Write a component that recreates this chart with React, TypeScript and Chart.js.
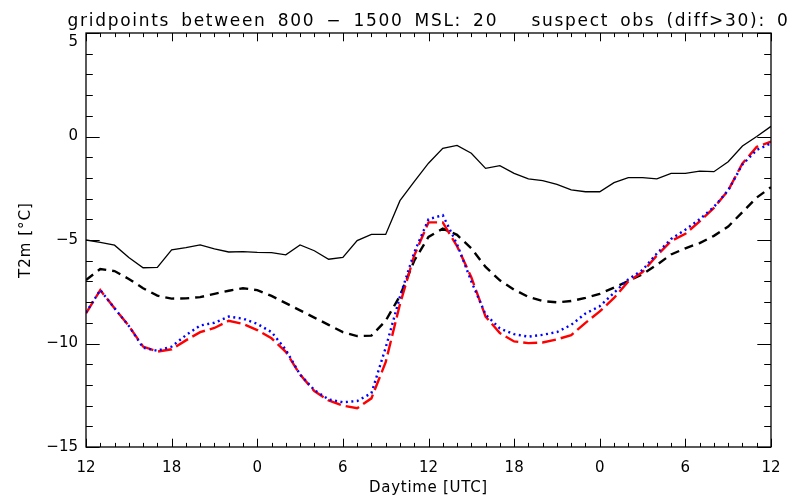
import React, { useEffect, useRef } from "react";
import { Chart, registerables } from "chart.js";

Chart.register(...registerables);

// Hours since start (12 UTC day 1 ... 12 UTC day 3)
const hours = [
  0, 1, 2, 3, 4, 5, 6, 7, 8, 9, 10, 11, 12, 13, 14, 15, 16, 17, 18, 19, 20, 21, 22, 23, 24,
  25, 26, 27, 28, 29, 30, 31, 32, 33, 34, 35, 36, 37, 38, 39, 40, 41, 42, 43, 44, 45, 46, 47, 48,
];

const xTickLabels = ["12", "18", "0", "6", "12", "18", "0", "6", "12"];

// solid black
const obsT2m = [
  -5.0, -5.12, -5.25, -5.85, -6.34, -6.32, -5.48, -5.37, -5.24, -5.43, -5.58, -5.56, -5.6,
  -5.61, -5.72, -5.24, -5.52, -5.93, -5.84, -5.03, -4.73, -4.73, -3.1, -2.18, -1.29, -0.57,
  -0.43, -0.81, -1.54, -1.41, -1.78, -2.05, -2.13, -2.31, -2.58, -2.67, -2.67, -2.23, -1.99,
  -1.99, -2.05, -1.78, -1.78, -1.67, -1.7, -1.22, -0.46, 0.0, 0.49,
];

// black dashed
const modelA = [
  -6.93, -6.4, -6.5, -6.88, -7.33, -7.69, -7.83, -7.82, -7.76, -7.6, -7.45, -7.33, -7.42,
  -7.7, -8.05, -8.4, -8.75, -9.1, -9.45, -9.64, -9.62, -8.9, -7.7, -6.0, -4.85, -4.45, -4.75,
  -5.4, -6.3, -6.95, -7.4, -7.75, -7.95, -8.01, -7.95, -7.8, -7.6, -7.3, -6.98, -6.65, -6.2,
  -5.7, -5.4, -5.15, -4.8, -4.35, -3.65, -2.95, -2.45,
];

// red long dashes
const modelB = [
  -8.54, -7.42, -8.3, -9.15, -10.15, -10.39, -10.28, -9.85, -9.45, -9.25, -8.9, -9.05, -9.35,
  -9.75, -10.4, -11.5, -12.3, -12.75, -13.0, -13.13, -12.65, -10.9, -8.1, -5.75, -4.15, -4.15,
  -5.3, -6.8, -8.7, -9.5, -9.9, -9.98, -9.95, -9.8, -9.6, -9.0, -8.45, -7.8, -7.0, -6.55,
  -5.75, -5.05, -4.7, -4.1, -3.45, -2.6, -1.3, -0.5, -0.25,
];

// blue dotted
const modelC = [
  -8.5, -7.42, -8.3, -9.15, -10.2, -10.35, -10.15, -9.6, -9.13, -9.0, -8.7, -8.8, -9.05,
  -9.45, -10.3, -11.5, -12.25, -12.7, -12.84, -12.78, -12.4, -10.2, -7.74, -5.6, -4.0, -3.8,
  -5.2, -7.0, -8.6, -9.27, -9.55, -9.67, -9.58, -9.45, -9.1, -8.55, -8.2, -7.55, -6.9, -6.45,
  -5.65, -4.95, -4.5, -4.0, -3.4, -2.6, -1.35, -0.65, -0.33,
];

const titleText = "gridpoints between 800 \u2212 1500 MSL: 20   suspect obs (diff>30): 0";
const xTitle = "Daytime [UTC]";
const yTitle = "T2m [\u00B0C]";

const FONT = "'DejaVu Sans', 'Liberation Sans', sans-serif";

const fmtY = (v: number) => (v < 0 ? "\u2212" + Math.abs(v) : String(v));

const framePlugin = {
  id: "idlFrame",
  afterDatasetsDraw(chart: any) {
    const { ctx, chartArea: a, scales } = chart;
    const xs = scales.x;
    const ys = scales.y;
    ctx.save();
    ctx.strokeStyle = "#000";
    ctx.lineWidth = 1.3;
    ctx.strokeRect(a.left, a.top, a.right - a.left, a.bottom - a.top);
    ctx.lineWidth = 1;
    ctx.beginPath();
    for (let v = -15; v <= 5; v++) {
      const py = Math.round(ys.getPixelForValue(v)) + 0.5;
      const len = v % 5 === 0 ? 13.7 : 6.8;
      ctx.moveTo(a.left, py);
      ctx.lineTo(a.left + len, py);
      ctx.moveTo(a.right, py);
      ctx.lineTo(a.right - len, py);
    }
    for (let h = 0; h <= 48; h++) {
      const px = Math.round(xs.getPixelForValue(h)) + 0.5;
      const len = h % 6 === 0 ? 8.3 : 4.1;
      ctx.moveTo(px, a.bottom);
      ctx.lineTo(px, a.bottom - len);
      ctx.moveTo(px, a.top);
      ctx.lineTo(px, a.top + len);
    }
    ctx.stroke();

    ctx.fillStyle = "#000";

    // y tick labels (IDL keeps the top label inside below the title)
    ctx.font = `15px ${FONT}`;
    ctx.textAlign = "right";
    ctx.textBaseline = "middle";
    for (const t of ys.ticks) {
      const py = ys.getPixelForValue(t.value);
      ctx.fillText(fmtY(t.value), a.left - 8, Math.max(py, a.top + 9));
    }

    // main title
    ctx.font = `17px ${FONT}`;
    ctx.textAlign = "center";
    ctx.textBaseline = "alphabetic";
    (ctx as any).letterSpacing = "1.7px";
    (ctx as any).wordSpacing = "4px";
    ctx.fillText(titleText, (a.left + a.right) / 2, 26);

    // x axis title
    ctx.font = `15px ${FONT}`;
    (ctx as any).letterSpacing = "0.7px";
    (ctx as any).wordSpacing = "0px";
    ctx.fillText(xTitle, (a.left + a.right) / 2, 492);

    // y axis title
    (ctx as any).letterSpacing = "1px";
    ctx.translate(26, (a.top + a.bottom) / 2);
    ctx.rotate(-Math.PI / 2);
    ctx.textBaseline = "middle";
    ctx.fillText(yTitle, 0, 0);
    ctx.restore();
  },
};

export default function App() {
  const ref = useRef<HTMLCanvasElement | null>(null);

  useEffect(() => {
    document.body.style.margin = "0";
    const canvas = ref.current;
    if (!canvas) return;
    const mk = (vals: number[]) => hours.map((h, i) => ({ x: h, y: vals[i] }));
    const chart = new Chart(canvas, {
      type: "line",
      data: {
        datasets: [
          {
            label: "obs",
            data: mk(obsT2m),
            borderColor: "#000000",
            borderWidth: 1.3,
            pointRadius: 0,
            order: 4,
          },
          {
            label: "model A",
            data: mk(modelA),
            borderColor: "#000000",
            borderWidth: 2.4,
            borderDash: [9, 6],
            pointRadius: 0,
            order: 3,
          },
          {
            label: "model B",
            data: mk(modelB),
            borderColor: "#ff0000",
            borderWidth: 2.4,
            borderDash: [14, 5],
            pointRadius: 0,
            order: 2,
          },
          {
            label: "model C",
            data: mk(modelC),
            borderColor: "#0000ff",
            borderWidth: 2.4,
            borderDash: [2, 3.5],
            pointRadius: 0,
            order: 1,
          },
        ],
      },
      options: {
        animation: false,
        responsive: false,
        maintainAspectRatio: false,
        layout: { padding: { top: 33, right: 25, left: 0, bottom: 0 } },
        plugins: {
          legend: { display: false },
          title: { display: false },
          tooltip: { enabled: false },
        },
        elements: { line: { tension: 0 }, point: { radius: 0 } },
        scales: {
          x: {
            type: "linear",
            min: 0,
            max: 48,
            border: { display: false },
            grid: { display: false, drawTicks: false },
            ticks: {
              stepSize: 6,
              autoSkip: false,
              maxRotation: 0,
              padding: 12,
              color: "#000",
              font: { family: FONT, size: 15 },
              callback: (v: any) => xTickLabels[Math.round(Number(v) / 6)],
            },
            afterFit: (s: any) => {
              s.height = 52;
            },
          },
          y: {
            type: "linear",
            min: -15,
            max: 5,
            border: { display: false },
            grid: { display: false, drawTicks: false },
            ticks: {
              display: false,
              stepSize: 5,
              font: { family: FONT, size: 15 },
            },
            afterFit: (s: any) => {
              s.width = 86;
            },
          },
        },
      },
      plugins: [framePlugin],
    } as any);
    return () => chart.destroy();
  }, []);

  return (
    <div style={{ width: 796, height: 499, background: "#fff" }}>
      <canvas ref={ref} width={796} height={499} style={{ display: "block" }} />
    </div>
  );
}
